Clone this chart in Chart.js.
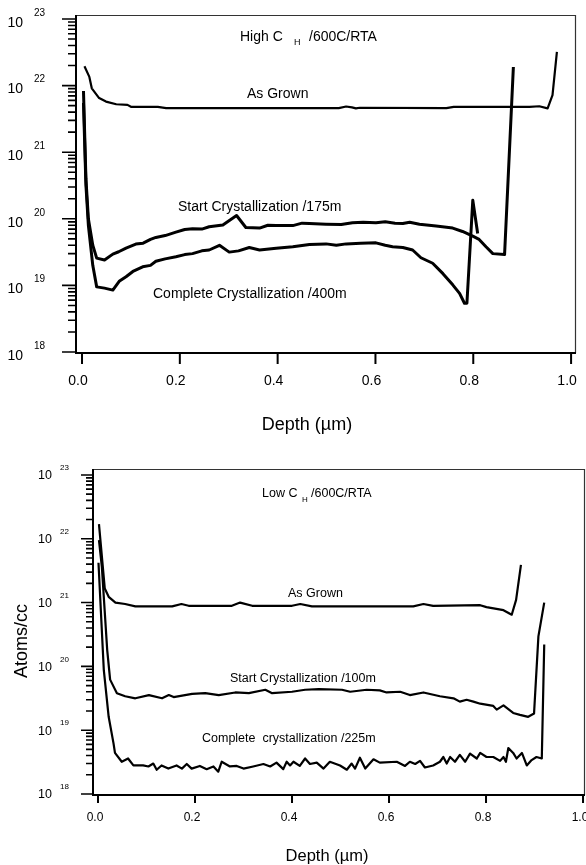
<!DOCTYPE html>
<html>
<head>
<meta charset="utf-8">
<script src="https://cdn.jsdelivr.net/npm/chart.js@4/dist/chart.umd.min.js"></script>
<style>
html,body{margin:0;padding:0;background:#fff;}
#wrap{position:relative;width:586px;height:865px;}
canvas{position:absolute;left:0;top:0;}
</style>
</head>
<body>
<div id="wrap">
<canvas id="c1" width="586" height="865"></canvas>
<canvas id="c2" width="586" height="865"></canvas>
</div>
<script>
// ---------- DATA (depth in µm, concentration in atoms/cc) ----------
const xTicks = [0.0, 0.2, 0.4, 0.6, 0.8, 1.0];
const xTickLabels = ["0.0", "0.2", "0.4", "0.6", "0.8", "1.0"];
const yDecades = [18, 19, 20, 21, 22, 23];
const yTickLabels = ["10", "10", "10", "10", "10", "10"];

// Top panel: High C_H / 600C / RTA
const topAsGrownDepth = [0.005,0.015,0.020,0.035,0.049,0.070,0.093,0.100,0.155,0.172,0.525,0.540,0.552,0.560,0.568,0.745,0.760,0.915,0.935,0.952,0.962,0.971];
const topAsGrown      = [1.95e22,1.35e22,9.1e21,6.5e21,5.75e21,5.25e21,5.13e21,4.8e21,4.8e21,4.6e21,4.6e21,4.85e21,4.7e21,4.55e21,4.65e21,4.6e21,4.8e21,4.8e21,4.9e21,4.55e21,7.2e21,3.2e22];

const topStartDepth = [0.003,0.008,0.013,0.022,0.030,0.046,0.063,0.075,0.090,0.110,0.125,0.140,0.151,0.170,0.192,0.210,0.226,0.245,0.260,0.288,0.316,0.335,0.363,0.380,0.397,0.431,0.450,0.465,0.499,0.530,0.553,0.575,0.601,0.620,0.640,0.656,0.670,0.690,0.724,0.758,0.778,0.799,0.812,0.826,0.840,0.864,0.882];
const topStart      = [8.3e21,4.0e20,1.0e20,4.0e19,2.57e19,2.4e19,2.95e19,3.2e19,3.63e19,4.17e19,4.3e19,4.9e19,5.25e19,5.6e19,6.3e19,6.9e19,7.1e19,7.0e19,7.6e19,8.1e19,1.12e20,7.4e19,7.25e19,8.0e19,7.9e19,7.9e19,8.6e19,8.5e19,8.3e19,8.2e19,8.7e19,8.9e19,8.7e19,9.0e19,8.6e19,8.5e19,8.9e19,8.3e19,7.8e19,7.25e19,6.45e19,5.5e19,4.9e19,3.8e19,3.0e19,2.9e19,1.9e22];

const topCompleteDepth = [0.003,0.008,0.013,0.022,0.030,0.046,0.063,0.076,0.090,0.104,0.124,0.140,0.151,0.170,0.192,0.210,0.226,0.245,0.260,0.281,0.301,0.320,0.342,0.363,0.397,0.431,0.465,0.499,0.520,0.540,0.570,0.601,0.620,0.635,0.656,0.676,0.693,0.717,0.738,0.758,0.772,0.782,0.787,0.799,0.809];
const topComplete      = [5.5e21,3.2e20,8.0e19,2.0e19,9.5e18,9.1e18,8.5e18,1.15e19,1.35e19,1.62e19,1.9e19,2.0e19,2.3e19,2.5e19,2.7e19,2.9e19,3.0e19,3.3e19,3.4e19,4.0e19,3.16e19,3.3e19,3.7e19,3.4e19,3.6e19,3.8e19,4.1e19,4.2e19,4.0e19,4.2e19,4.3e19,4.35e19,4.0e19,3.8e19,3.7e19,3.4e19,2.6e19,2.15e19,1.5e19,1.02e19,7.6e18,5.4e18,5.4e18,1.9e20,6.0e19];

// Bottom panel: Low C_H / 600C / RTA
const botAsGrownDepth = [0.002,0.014,0.022,0.036,0.056,0.077,0.153,0.172,0.187,0.276,0.293,0.318,0.400,0.417,0.441,0.503,0.561,0.650,0.671,0.691,0.788,0.801,0.836,0.853,0.862,0.872];
const botAsGrown      = [1.7e22,1.66e21,1.23e21,1.0e21,9.5e20,8.7e20,8.7e20,9.5e20,8.9e20,8.9e20,1.0e21,8.9e20,8.9e20,9.5e20,8.7e20,8.7e20,8.7e20,8.7e20,9.5e20,8.9e20,9.1e20,8.5e20,7.6e20,6.45e20,1.1e21,3.9e21];

const botStartDepth = [0.002,0.008,0.019,0.025,0.039,0.056,0.077,0.105,0.132,0.146,0.156,0.194,0.221,0.249,0.283,0.311,0.345,0.359,0.400,0.427,0.455,0.503,0.520,0.554,0.581,0.595,0.623,0.643,0.671,0.705,0.733,0.746,0.760,0.774,0.788,0.815,0.822,0.836,0.856,0.870,0.887,0.899,0.908,0.920];
const botStart      = [9.5e21,3.6e21,1.8e20,6.2e19,3.8e19,3.4e19,3.16e19,3.55e19,3.16e19,3.55e19,3.3e19,3.7e19,3.8e19,3.55e19,3.9e19,3.8e19,4.3e19,3.8e19,4.0e19,4.3e19,4.4e19,4.3e19,4.0e19,4.3e19,4.2e19,3.9e19,4.0e19,3.55e19,3.9e19,3.4e19,3.16e19,2.8e19,3.0e19,2.8e19,2.6e19,2.4e19,2.1e19,2.45e19,1.86e19,1.74e19,1.62e19,1.82e19,2.95e20,1.0e21];

const botCompleteDepth = [0.001,0.012,0.022,0.032,0.035,0.049,0.062,0.073,0.093,0.104,0.114,0.121,0.131,0.145,0.162,0.173,0.183,0.193,0.210,0.224,0.238,0.248,0.255,0.272,0.286,0.300,0.320,0.341,0.355,0.368,0.382,0.389,0.396,0.403,0.416,0.427,0.437,0.451,0.465,0.478,0.499,0.513,0.523,0.530,0.540,0.551,0.568,0.581,0.616,0.633,0.643,0.654,0.664,0.674,0.691,0.705,0.712,0.719,0.726,0.736,0.746,0.757,0.767,0.781,0.788,0.801,0.815,0.829,0.836,0.841,0.846,0.856,0.863,0.874,0.884,0.894,0.904,0.915,0.920];
const botComplete      = [4.2e21,8.7e19,1.62e19,6.2e18,4.4e18,3.2e18,3.6e18,2.8e18,2.8e18,2.7e18,3.0e18,2.4e18,2.8e18,2.5e18,2.8e18,2.5e18,2.95e18,2.5e18,2.75e18,2.45e18,2.7e18,2.24e18,3.2e18,2.7e18,2.75e18,2.5e18,2.7e18,2.95e18,2.7e18,3.1e18,2.45e18,3.2e18,2.8e18,3.2e18,2.75e18,3.6e18,2.95e18,3.1e18,2.5e18,3.2e18,2.8e18,2.4e18,3.0e18,2.5e18,3.7e18,2.5e18,3.5e18,3.1e18,3.2e18,2.75e18,3.2e18,2.95e18,3.3e18,2.6e18,2.8e18,3.2e18,3.8e18,3.0e18,3.8e18,3.2e18,4.1e18,3.2e18,4.3e18,3.6e18,4.4e18,3.8e18,3.8e18,3.3e18,3.8e18,3.2e18,5.25e18,4.4e18,3.6e18,4.4e18,2.8e18,3.4e18,3.8e18,3.6e18,2.2e20];

// ---------- helpers ----------
const FONT = '"Liberation Sans", Arial, Helvetica, sans-serif';
function pts(xs, ys){ return xs.map((x,i)=>({x:x, y:ys[i]})); }
function ds(xs, ys, w){ return {data:pts(xs,ys), borderColor:'#000', borderWidth:w, pointRadius:0, tension:0, fill:false, clip:false, borderJoinStyle:'round', borderCapStyle:'butt'}; }

function axesPlugin(cfg){
  return {
    id:'axesDraw'+cfg.id,
    afterDraw(chart){
      const ctx = chart.ctx, a = chart.chartArea, xs = chart.scales.x, ys = chart.scales.y;
      ctx.save();
      // frame: top & right thin
      ctx.strokeStyle = '#333'; ctx.lineWidth = 1.2;
      ctx.beginPath();
      ctx.moveTo(a.left, a.top+0.5); ctx.lineTo(a.right+0.5, a.top+0.5); ctx.lineTo(a.right+0.5, a.bottom);
      ctx.stroke();
      // axis lines
      ctx.strokeStyle = '#000'; ctx.lineWidth = 2;
      ctx.beginPath();
      ctx.moveTo(a.left, a.top); ctx.lineTo(a.left, a.bottom+1);
      ctx.moveTo(a.left-1, a.bottom); ctx.lineTo(a.right+1, a.bottom);
      ctx.stroke();
      // y ticks
      ctx.lineWidth = 1.6;
      ctx.beginPath();
      yDecades.forEach((e, i)=>{
        const py = ys.getPixelForValue(Math.pow(10, e));
        ctx.moveTo(a.left - cfg.majorLen, py); ctx.lineTo(a.left, py);
        if (i < yDecades.length-1){
          for (let k=2;k<=9;k++){
            const pm = ys.getPixelForValue(k*Math.pow(10, e));
            ctx.moveTo(a.left - cfg.minorLen, pm); ctx.lineTo(a.left, pm);
          }
        }
      });
      ctx.stroke();
      // x ticks
      ctx.lineWidth = 2;
      ctx.beginPath();
      xTicks.forEach(v=>{
        const px = xs.getPixelForValue(v);
        ctx.moveTo(px, a.bottom); ctx.lineTo(px, a.bottom + cfg.xTickLen);
      });
      ctx.stroke();
      // y labels
      ctx.fillStyle = '#000';
      ctx.textBaseline = 'middle';
      yDecades.forEach((e, i)=>{
        const py = ys.getPixelForValue(Math.pow(10, e));
        ctx.font = cfg.yFont + 'px ' + FONT;
        ctx.textAlign = 'right';
        ctx.fillText(yTickLabels[i], a.left - cfg.yLabelDx, py + cfg.yLabelDy);
        ctx.font = cfg.supFont + 'px ' + FONT;
        ctx.textAlign = 'left';
        ctx.fillText(String(e), a.left - cfg.supDx, py + cfg.supDy);
      });
      // x labels
      ctx.font = cfg.xFont + 'px ' + FONT;
      ctx.textAlign = 'center';
      xTicks.forEach((v, i)=>{
        const px = xs.getPixelForValue(v);
        ctx.fillText(xTickLabels[i], px + cfg.xLabelDx, cfg.xLabelY);
      });
      // axis title
      ctx.font = cfg.titleFont + 'px ' + FONT;
      ctx.fillText('Depth (µm)', cfg.titleX, cfg.titleY);
      // annotations
      ctx.textAlign = 'left';
      cfg.texts.forEach(t=>{
        ctx.font = t.size + 'px ' + FONT;
        ctx.fillText(t.text, t.x, t.y);
      });
      if (cfg.ylabel){
        ctx.save();
        ctx.translate(cfg.ylabel.x, cfg.ylabel.y);
        ctx.rotate(-Math.PI/2);
        ctx.textAlign = 'center';
        ctx.font = cfg.ylabel.size + 'px ' + FONT;
        ctx.fillText(cfg.ylabel.text, 0, 0);
        ctx.restore();
      }
      ctx.restore();
    }
  };
}

function makeChart(id, datasets, pad, xr, yr, plug){
  return new Chart(document.getElementById(id), {
    type:'line',
    data:{datasets:datasets},
    options:{
      responsive:false, animation:false, devicePixelRatio:1,
      layout:{padding:pad},
      plugins:{legend:{display:false}, title:{display:false}, tooltip:{enabled:false}},
      events:[],
      scales:{
        x:{type:'linear', min:xr[0], max:xr[1], display:false},
        y:{type:'logarithmic', min:yr[0], max:yr[1], display:false}
      }
    },
    plugins:[plug]
  });
}

makeChart('c1', [
    ds(topAsGrownDepth, topAsGrown, 2.2),
    ds(topStartDepth, topStart, 3),
    ds(topCompleteDepth, topComplete, 3)
  ],
  {left:76, right:11, top:15, bottom:512},
  [-0.0123, 1.008], [9.66e17, 1.148e23],
  axesPlugin({id:1, majorLen:14, minorLen:8, xTickLen:11, yFont:14, supFont:10, yLabelDx:53, yLabelDy:4, supDx:42, supDy:-6,
    xFont:14, xLabelDx:-4, xLabelY:381, titleFont:18, titleX:307, titleY:425,
    texts:[
      {text:'High C', x:240, y:37, size:14},
      {text:'H', x:294, y:43, size:9},
      {text:'/600C/RTA', x:309, y:37, size:14},
      {text:'As Grown', x:247, y:94, size:14},
      {text:'Start Crystallization /175m', x:178, y:207, size:14},
      {text:'Complete Crystallization /400m', x:153, y:294, size:14}
    ]})
);

makeChart('c2', [
    ds(botAsGrownDepth, botAsGrown, 2.2),
    ds(botStartDepth, botStart, 2.2),
    ds(botCompleteDepth, botComplete, 2.2)
  ],
  {left:93, right:2, top:469, bottom:70},
  [-0.0103, 1.002], [9.64e17, 1.24e23],
  axesPlugin({id:2, majorLen:12, minorLen:7, xTickLen:8, yFont:12.5, supFont:8, yLabelDx:41, yLabelDy:1, supDx:33, supDy:-7,
    xFont:12, xLabelDx:-3, xLabelY:818, titleFont:16.5, titleX:327, titleY:856,
    ylabel:{text:'Atoms/cc', x:22, y:641, size:18},
    texts:[
      {text:'Low C', x:262, y:494, size:12.5},
      {text:'H', x:302, y:500, size:8},
      {text:'/600C/RTA', x:311, y:494, size:12.5},
      {text:'As Grown', x:288, y:594, size:12.5},
      {text:'Start Crystallization /100m', x:230, y:679, size:12.5},
      {text:'Complete  crystallization /225m', x:202, y:739, size:12.5}
    ]})
);
</script>
</body>
</html>
